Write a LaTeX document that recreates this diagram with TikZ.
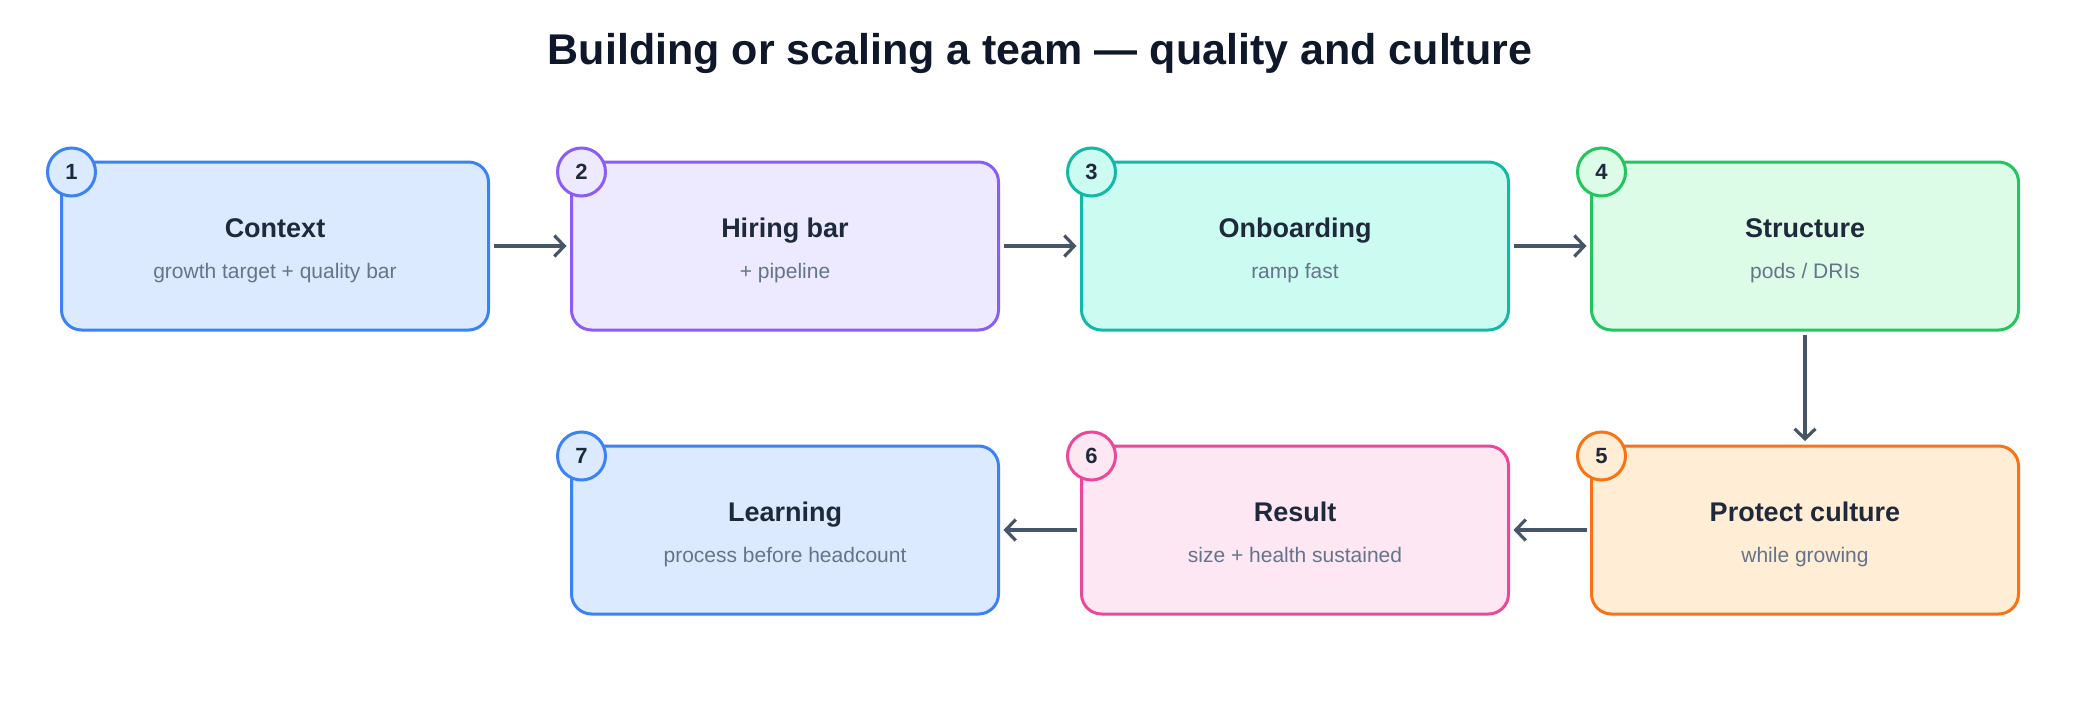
\documentclass[tikz,border=0pt]{standalone}
\usepackage{fontspec}
\setmainfont{Liberation Sans}
\usetikzlibrary{arrows.meta}
\definecolor{titlec}{HTML}{0F172A}
\definecolor{headc}{HTML}{1E293B}
\definecolor{subc}{HTML}{64748B}
\definecolor{arrc}{HTML}{475569}
\definecolor{fblue}{HTML}{DBEAFE}\definecolor{sblue}{HTML}{3B82F6}
\definecolor{fviol}{HTML}{EDE9FE}\definecolor{sviol}{HTML}{8B5CF6}
\definecolor{fteal}{HTML}{CCFBF1}\definecolor{steal}{HTML}{14B8A6}
\definecolor{fgreen}{HTML}{DCFCE7}\definecolor{sgreen}{HTML}{22C55E}
\definecolor{forange}{HTML}{FFEDD5}\definecolor{sorange}{HTML}{F97316}
\definecolor{fpink}{HTML}{FCE7F3}\definecolor{spink}{HTML}{EC4899}
\tikzset{
  stepbox/.style={rectangle, rounded corners=20pt, minimum width=427pt, minimum height=168pt, line width=3pt, outer sep=0pt, inner sep=0pt},
  numc/.style={circle, minimum size=48pt, inner sep=0pt, line width=3pt, text=headc, font=\fontsize{22}{26}\selectfont\bfseries},
  headt/.style={text=headc, font=\fontsize{27}{32}\selectfont\bfseries, inner sep=0pt, anchor=base},
  subt/.style={text=subc, font=\fontsize{21}{25}\selectfont, inner sep=0pt, anchor=base},
  arr/.style={draw=arrc, line width=3.2pt, -{Straight Barb[length=10pt,width=21pt,line width=3.2pt]}, shorten >=5pt, shorten <=5pt},
}
\newcommand{\stepnode}[7]{%
  \node[stepbox, draw=#5, fill=#6] (#1) at #2 {};
  \node[headt] (#1h) at ([yshift=8.5pt]#1.center) {#3};
  \node[subt] (#1s) at ([yshift=-32pt]#1.center) {#4};
  \node[numc, draw=#5, fill=#6] (#1n) at ([xshift=10pt,yshift=-10pt]#1.north west) {#7};
}
\begin{document}
\begin{tikzpicture}[x=1pt,y=-1pt]
\useasboundingbox (0,0) rectangle (2080,704);
\fill[white] (0,0) rectangle (2080,704);
\node[text=titlec, font=\fontsize{43}{50}\selectfont\bfseries] (title) at (1040,53) {Building or scaling a team — quality and culture};
\stepnode{b1}{(275,246)}{Context}{growth target + quality bar}{sblue}{fblue}{1}
\stepnode{b2}{(785,246)}{Hiring bar}{+ pipeline}{sviol}{fviol}{2}
\stepnode{b3}{(1295,246)}{Onboarding}{ramp fast}{steal}{fteal}{3}
\stepnode{b4}{(1805,246)}{Structure}{pods / DRIs}{sgreen}{fgreen}{4}
\stepnode{b5}{(1805,530)}{Protect culture}{while growing}{sorange}{forange}{5}
\stepnode{b6}{(1295,530)}{Result}{size + health sustained}{spink}{fpink}{6}
\stepnode{b7}{(785,530)}{Learning}{process before headcount}{sblue}{fblue}{7}
\draw[arr] (b1.east) -- (b2.west);
\draw[arr] (b2.east) -- (b3.west);
\draw[arr] (b3.east) -- (b4.west);
\draw[arr] (b4.south) -- (b5.north);
\draw[arr] (b5.west) -- (b6.east);
\draw[arr] (b6.west) -- (b7.east);
\end{tikzpicture}
\end{document}
